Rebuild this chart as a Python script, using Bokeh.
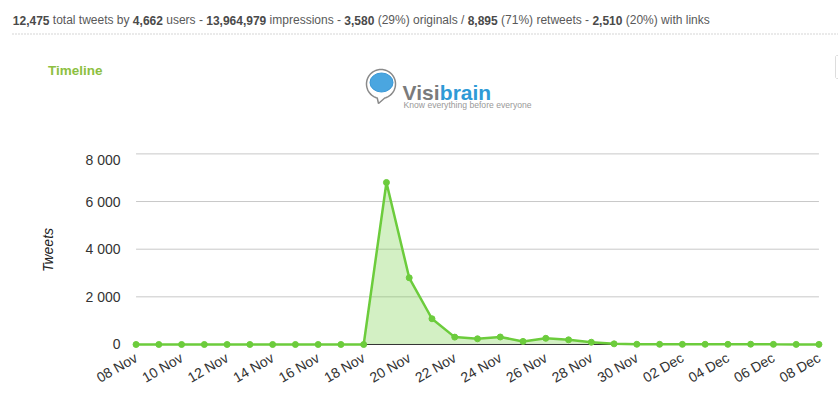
import math
import numpy as np
from bokeh.plotting import figure
from bokeh.layouts import column
from bokeh.models import FixedTicker, Range1d, ColumnDataSource
from bokeh.core.properties import value
from bokeh.embed import file_html
from bokeh.resources import INLINE

# ---------------- data ----------------
dates = ["08 Nov", "09 Nov", "10 Nov", "11 Nov", "12 Nov", "13 Nov", "14 Nov",
         "15 Nov", "16 Nov", "17 Nov", "18 Nov", "19 Nov", "20 Nov", "21 Nov",
         "22 Nov", "23 Nov", "24 Nov", "25 Nov", "26 Nov", "27 Nov", "28 Nov",
         "29 Nov", "30 Nov", "01 Dec", "02 Dec", "03 Dec", "04 Dec", "05 Dec",
         "06 Dec", "07 Dec", "08 Dec"]
tweets = [0, 0, 0, 0, 0, 0, 0, 0, 0, 0, 0,
          6800, 2800, 1080, 310, 240, 315, 130, 260, 196, 95,
          28, 10, 8, 6, 9, 7, 12, 6, 5, 4]
y_ticks = [0, 2000, 4000, 6000, 8000]
y_tick_labels = ["0", "2 000", "4 000", "6 000", "8 000"]
x_tick_every = 2

header_parts = [("12,475", True), (" total tweets by ", False), ("4,662", True),
                (" users - ", False), ("13,964,979", True), (" impressions - ", False),
                ("3,580", True), (" (29%) originals / ", False), ("8,895", True),
                (" (71%) retweets - ", False), ("2,510", True),
                (" (20%) with links", False)]

# ---------------- styling ----------------
GREEN = "#6ccc3c"
FONT = "Liberation Sans"
WIDTH, HEAD_H, CHART_H = 838, 151, 248

W = {' ': 278, ',': 278, '-': 333, '(': 333, ')': 333, '%': 889, '/': 278,
     'a': 556, 'b': 556, 'c': 500, 'd': 556, 'e': 556, 'f': 278, 'g': 556,
     'h': 556, 'i': 222, 'k': 500, 'l': 222, 'm': 833, 'n': 556, 'o': 556,
     'p': 556, 'r': 333, 's': 500, 't': 278, 'u': 556, 'v': 500, 'w': 722,
     'y': 500, 'V': 667}
WB = {'V': 667, 'i': 278, 's': 556}


def text_width(s, size, table=W):
    return sum(table.get(c, 556) for c in s) / 1000.0 * size


# ---------------- header figure (pixel coordinates, y downwards) ----------------
hp = figure(width=WIDTH, height=HEAD_H, output_backend="svg", toolbar_location=None,
            x_range=Range1d(0, WIDTH), y_range=Range1d(HEAD_H, 0),
            x_axis_type=None, y_axis_type=None,
            min_border_left=0, min_border_right=0, min_border_top=0, min_border_bottom=0)
hp.frame_align = False
hp.outline_line_color = None
hp.grid.visible = False
hp.background_fill_color = "white"
hp.border_fill_color = "white"

bx, bt, nx, nt = [], [], [], []
x0 = 12.3
for txt, bold in header_parts:
    lead = len(txt) - len(txt.lstrip(" "))
    xs = x0 + text_width(" " * lead, 12)
    if bold:
        bx.append(xs); bt.append(txt.strip())
    else:
        nx.append(xs); nt.append(txt.strip())
    x0 += text_width(txt, 12)
hp.text(x=bx, y=[19.5] * len(bx), text=bt, text_font=value(FONT),
        text_font_size="12px", text_font_style="bold", text_color="#4a4a4a",
        text_baseline="alphabetic", text_align="left")
hp.text(x=nx, y=[19.5] * len(nx), text=nt, text_font=value(FONT),
        text_font_size="12px", text_color="#595959",
        text_baseline="alphabetic", text_align="left")
hp.segment(x0=[12], y0=[33.5], x1=[WIDTH], y1=[33.5], line_color="#aaaaaa",
           line_width=1, line_dash="1 2")

hp.text(x=[47.5], y=[69.5], text=["Timeline"], text_font=value(FONT),
        text_font_size="13.5px", text_font_style="bold", text_color="#8dc041",
        text_baseline="alphabetic")

# faint export-button edge on the right
hp.line(x=[850, 836, 835, 835, 836, 850], y=[55, 55, 56, 77, 78, 78],
        line_color="#dddddd", line_width=1)

# logo
cx, cy, r = 380.5, 83.5, 14.5
ang = np.radians(np.linspace(105, 435, 80))
lx = list(cx + r * np.cos(ang)) + [cx - 2.5]
ly = list(cy + r * np.sin(ang)) + [cy + r + 5]
lx.append(lx[0]); ly.append(ly[0])
hp.patch(x=lx, y=ly, fill_color="white", line_color="#8a8a8a", line_width=1.5)
hp.ellipse(x=[381], y=[82], width=[23], height=[19], fill_color="#4aa6e0",
           line_color="#3a98d6", line_width=1)
hp.text(x=[402], y=[91.7], text=["Visi"], text_font=value(FONT),
        text_font_size="21px", text_font_style="bold", text_color="#7b7b7b",
        text_baseline="alphabetic")
hp.text(x=[402 + text_width("Visi", 21, WB)], y=[91.7], text=["brain"],
        text_font=value(FONT), text_font_size="21px", text_font_style="bold",
        text_color="#2e9ad6", text_baseline="alphabetic")
hp.text(x=[403], y=[104.5], text=["Know everything before everyone"],
        text_font=value(FONT), text_font_size="8.6px", text_color="#999999",
        text_baseline="alphabetic")

# ---------------- chart figure ----------------
idx = list(range(len(dates)))
src = ColumnDataSource(dict(x=idx, y=tweets, base=[0] * len(idx)))

p = figure(width=WIDTH, height=CHART_H, output_backend="svg", toolbar_location=None,
           x_range=Range1d(-0.2, len(dates) - 1 + 0.2),
           y_range=Range1d(-168, 8100),
           min_border_left=131, min_border_right=15,
           min_border_top=0, min_border_bottom=51)
p.frame_align = False
p.outline_line_color = None
p.xgrid.visible = False
p.ygrid.visible = False
p.background_fill_color = "white"
p.border_fill_color = "white"

# grid lines
p.segment(x0=[idx[0]] * (len(y_ticks) - 1), x1=[idx[-1]] * (len(y_ticks) - 1),
          y0=y_ticks[1:], y1=y_ticks[1:], line_color="#c8c8c8", line_width=1)

# area
p.varea(x="x", y1="base", y2="y", source=src, fill_color=GREEN, fill_alpha=0.3)
# base axis line
p.segment(x0=[idx[0]], x1=[idx[-1]], y0=[0], y1=[0], line_color="#333333", line_width=1)
p.line(x="x", y="y", source=src, line_color=GREEN, line_width=2.5)
p.scatter(x="x", y="y", source=src, size=6, fill_color=GREEN, line_color=GREEN)

# axes
xa = p.xaxis[0]
xa.ticker = FixedTicker(ticks=idx[::x_tick_every])
xa.major_label_overrides = {i: dates[i] for i in idx[::x_tick_every]}
xa.major_label_orientation = math.pi / 6
xa.axis_line_color = None
xa.major_tick_line_color = None
xa.minor_tick_line_color = None
xa.major_label_text_font = FONT
xa.major_label_text_font_size = "14px"
xa.major_label_text_color = "#333333"
xa.major_label_standoff = 2

ya = p.yaxis[0]
ya.ticker = FixedTicker(ticks=y_ticks)
ya.major_label_overrides = dict(zip(y_ticks, y_tick_labels))
ya.axis_line_color = None
ya.major_tick_line_color = None
ya.minor_tick_line_color = None
ya.major_label_text_font = FONT
ya.major_label_text_font_size = "14px"
ya.major_label_text_color = "#333333"
ya.major_label_standoff = 5
ya.axis_label = "Tweets"
ya.axis_label_text_font = FONT
ya.axis_label_text_font_size = "14px"
ya.axis_label_text_font_style = "italic"
ya.axis_label_text_color = "#222222"
ya.axis_label_standoff = 26

layout = column(hp, p, spacing=0)
open("out.html", "w").write(file_html(layout, INLINE))
